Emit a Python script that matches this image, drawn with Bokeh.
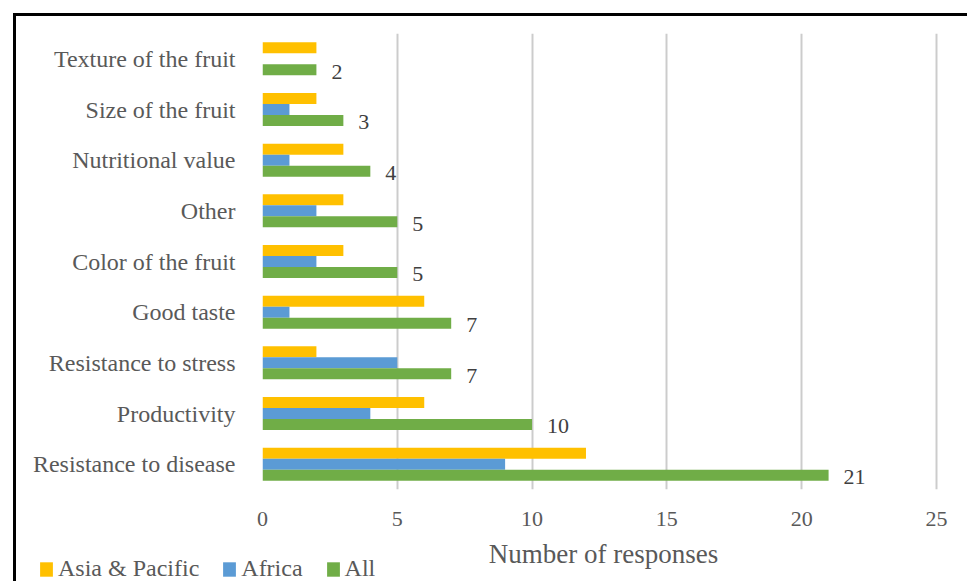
from bokeh.plotting import figure
from bokeh.models import (ColumnDataSource, FactorRange, Range1d, Legend, LegendItem,
                          FixedTicker)
from bokeh.transform import dodge
from bokeh.core.properties import value
from bokeh.embed import file_html
from bokeh.resources import INLINE

categories = ["Resistance to disease", "Productivity", "Resistance to stress", "Good taste",
              "Color of the fruit", "Other", "Nutritional value", "Size of the fruit",
              "Texture of the fruit"]
all_vals = [21, 10, 7, 7, 5, 5, 4, 3, 2]
africa_vals = [9, 4, 5, 1, 2, 2, 1, 1, 0]
asia_vals = [12, 6, 2, 6, 3, 3, 3, 2, 2]
x_ticks = [0, 5, 10, 15, 20, 25]
series_names = ["Asia & Pacific", "Africa", "All"]
series_cols = ["asia", "africa", "all"]
series_colors = ["#FFC000", "#5B9BD5", "#70AD47"]

FONT = "Liberation Serif"

src = ColumnDataSource(dict(cat=categories, all=all_vals, africa=africa_vals, asia=asia_vals,
                            label=[str(v) for v in all_vals]))

p = figure(width=954, height=568, y_range=FactorRange(*categories, range_padding=0),
           x_range=Range1d(0, 25.3), output_backend="svg", toolbar_location=None,
           min_border_left=246, min_border_right=26, min_border_top=17, min_border_bottom=95,
           styles={"border-top": "3px solid black", "border-left": "3px solid black",
                   "margin-left": "13px", "margin-top": "13px"})
p.outline_line_color = None
p.background_fill_color = "white"
p.border_fill_color = "white"

bh = 0.217
offsets = [bh, 0, -bh]
for col, color, off in zip(series_cols, series_colors, offsets):
    p.hbar(y=dodge("cat", off, range=p.y_range), right=col, left=0, height=bh,
           source=src, fill_color=color, line_color=None)

p.text(x="all", y=dodge("cat", -bh, range=p.y_range), text="label", source=src,
       x_offset=15, y_offset=2, text_baseline="middle", text_align="left",
       text_font=value(FONT), text_font_size="22px", text_color="#404040")

p.xgrid.ticker = FixedTicker(ticks=x_ticks)
p.xgrid.grid_line_color = "#cccccc"
p.xgrid.grid_line_width = 2
p.ygrid.grid_line_color = None

p.xaxis.ticker = FixedTicker(ticks=x_ticks)
p.xaxis.axis_line_color = None
p.xaxis.major_tick_line_color = None
p.xaxis.minor_tick_line_color = None
p.xaxis.major_label_standoff = 16
p.xaxis.major_label_text_font = FONT
p.xaxis.major_label_text_font_size = "22px"
p.xaxis.major_label_text_color = "#595959"
p.xaxis.axis_label = "Number of responses"
p.xaxis.axis_label_text_font = FONT
p.xaxis.axis_label_text_font_size = "27px"
p.xaxis.axis_label_text_font_style = "normal"
p.xaxis.axis_label_text_color = "#595959"
p.xaxis.axis_label_standoff = 10

p.yaxis.axis_line_color = None
p.yaxis.major_tick_line_color = None
p.yaxis.minor_tick_line_color = None
p.yaxis.major_label_standoff = 21
p.yaxis.major_label_text_font = FONT
p.yaxis.major_label_text_font_size = "24px"
p.yaxis.major_label_text_color = "#595959"

# separate transparent strip that carries the legend, laid over the bottom-left corner
p2 = figure(width=400, height=33, x_range=Range1d(-2, -1),
            y_range=FactorRange(*categories), output_backend="svg",
            toolbar_location=None, min_border=0,
            styles={"margin-top": "-32px", "margin-left": "16px"})
p2.axis.visible = False
p2.grid.visible = False
p2.outline_line_color = None
p2.background_fill_alpha = 0
p2.border_fill_alpha = 0
leg_renderers = [p2.hbar(y="cat", right=col, left=0, height=bh, source=src,
                         fill_color=color, line_color=None)
                 for col, color in zip(series_cols, series_colors)]
legend = Legend(items=[LegendItem(label=n, renderers=[r])
                       for n, r in zip(series_names, leg_renderers)],
                orientation="horizontal", location=(22, 0),
                glyph_width=16, glyph_height=18, label_standoff=4, spacing=22,
                padding=0, margin=0, border_line_color=None, background_fill_alpha=0,
                label_text_font=FONT, label_text_font_size="24px", label_text_color="#595959")
p2.add_layout(legend, "center")

open("out.html", "w").write(file_html([p, p2], INLINE))
